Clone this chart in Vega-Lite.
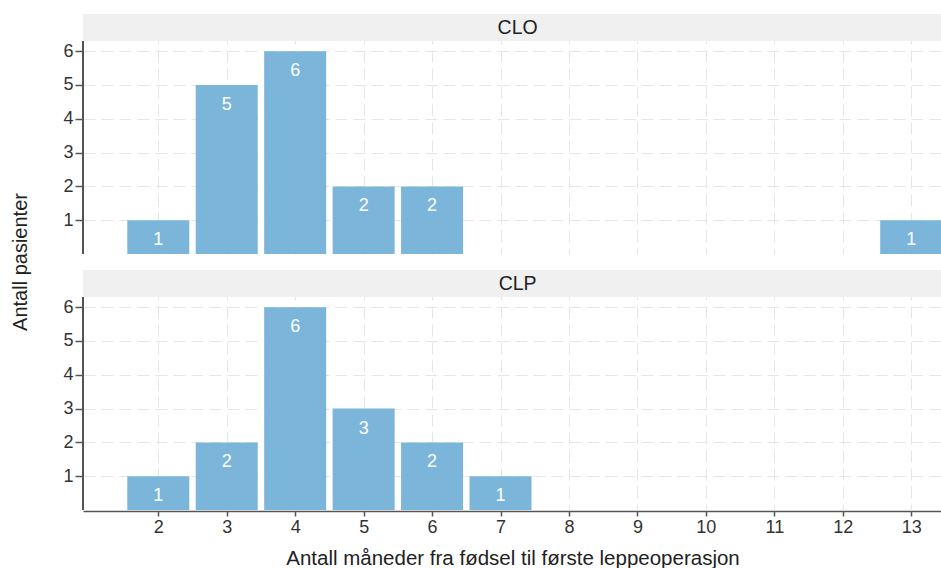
{
  "$schema": "https://vega.github.io/schema/vega-lite/v6.json",
  "padding": {"left": 10, "top": 14, "right": 0, "bottom": 0},
  "data": {
    "values": [
      {"gruppe": "CLO", "maaned": 2, "antall": 1},
      {"gruppe": "CLO", "maaned": 3, "antall": 5},
      {"gruppe": "CLO", "maaned": 4, "antall": 6},
      {"gruppe": "CLO", "maaned": 5, "antall": 2},
      {"gruppe": "CLO", "maaned": 6, "antall": 2},
      {"gruppe": "CLO", "maaned": 13, "antall": 1},
      {"gruppe": "CLP", "maaned": 2, "antall": 1},
      {"gruppe": "CLP", "maaned": 3, "antall": 2},
      {"gruppe": "CLP", "maaned": 4, "antall": 6},
      {"gruppe": "CLP", "maaned": 5, "antall": 3},
      {"gruppe": "CLP", "maaned": 6, "antall": 2},
      {"gruppe": "CLP", "maaned": 7, "antall": 1}
    ]
  },
  "facet": {
    "row": {
      "field": "gruppe",
      "type": "nominal",
      "sort": ["CLO", "CLP"],
      "header": {
        "labels": false,
        "title": "Antall pasienter",
        "titleFontSize": 20,
        "titleFontWeight": "normal",
        "titleColor": "#222222",
        "titlePadding": 21
      }
    }
  },
  "spacing": 15,
  "spec": {
    "width": 859,
    "height": 240,
    "layer": [
      {
        "mark": {"type": "rect", "color": "#f0f0f0"},
        "encoding": {
          "x": {"datum": 0.9, "type": "quantitative"},
          "x2": {"datum": 13.45},
          "y": {"datum": 6.3, "type": "quantitative"},
          "y2": {"datum": 7.1}
        }
      },
      {
        "mark": {"type": "rule", "color": "#555555", "strokeWidth": 1.5},
        "encoding": {
          "x": {"datum": 0.9, "type": "quantitative"},
          "y": {"datum": 0, "type": "quantitative"},
          "y2": {"datum": 6.3}
        }
      },
      {
        "mark": {"type": "bar", "width": 62, "color": "#7bb5d9"},
        "encoding": {
          "x": {
            "field": "maaned",
            "type": "quantitative",
            "scale": {"domain": [0.9, 13.45], "nice": false, "zero": false, "padding": 0},
            "axis": {
              "values": [2, 3, 4, 5, 6, 7, 8, 9, 10, 11, 12, 13],
              "format": "d",
              "title": "Antall måneder fra fødsel til første leppeoperasjon",
              "labelFontSize": 18,
              "labelColor": "#333333",
              "tickSize": 5,
              "labelPadding": 2,
              "titlePadding": 12,
              "titleFontSize": 20.5,
              "titleFontWeight": "normal",
              "titleColor": "#222222"
            }
          },
          "y": {
            "field": "antall",
            "type": "quantitative",
            "scale": {"domain": [0, 7.1], "nice": false},
            "axis": {
              "values": [1, 2, 3, 4, 5, 6],
              "format": "d",
              "title": null,
              "domain": false,
              "labelFontSize": 18,
              "labelColor": "#333333",
              "tickSize": 7,
              "labelPadding": 2
            }
          }
        }
      },
      {
        "mark": {"type": "text", "color": "white", "fontSize": 18, "baseline": "middle", "dy": 20},
        "encoding": {
          "x": {"field": "maaned", "type": "quantitative"},
          "y": {"field": "antall", "type": "quantitative"},
          "text": {"field": "antall", "type": "quantitative"}
        }
      },
      {
        "transform": [{"aggregate": [{"op": "count", "as": "n"}], "groupby": ["gruppe"]}],
        "mark": {"type": "text", "color": "#222222", "fontSize": 19.5, "baseline": "middle"},
        "encoding": {
          "x": {"datum": 7.25, "type": "quantitative"},
          "y": {"datum": 6.7, "type": "quantitative"},
          "text": {"field": "gruppe", "type": "nominal"}
        }
      }
    ]
  },
  "config": {
    "font": "Liberation Sans",
    "view": {"stroke": null},
    "axis": {
      "grid": true,
      "gridColor": "#e6e6e6",
      "gridDash": [12, 6],
      "gridWidth": 1,
      "domainColor": "#555555",
      "domainWidth": 1.5,
      "tickColor": "#555555",
      "tickWidth": 1.5
    }
  }
}
